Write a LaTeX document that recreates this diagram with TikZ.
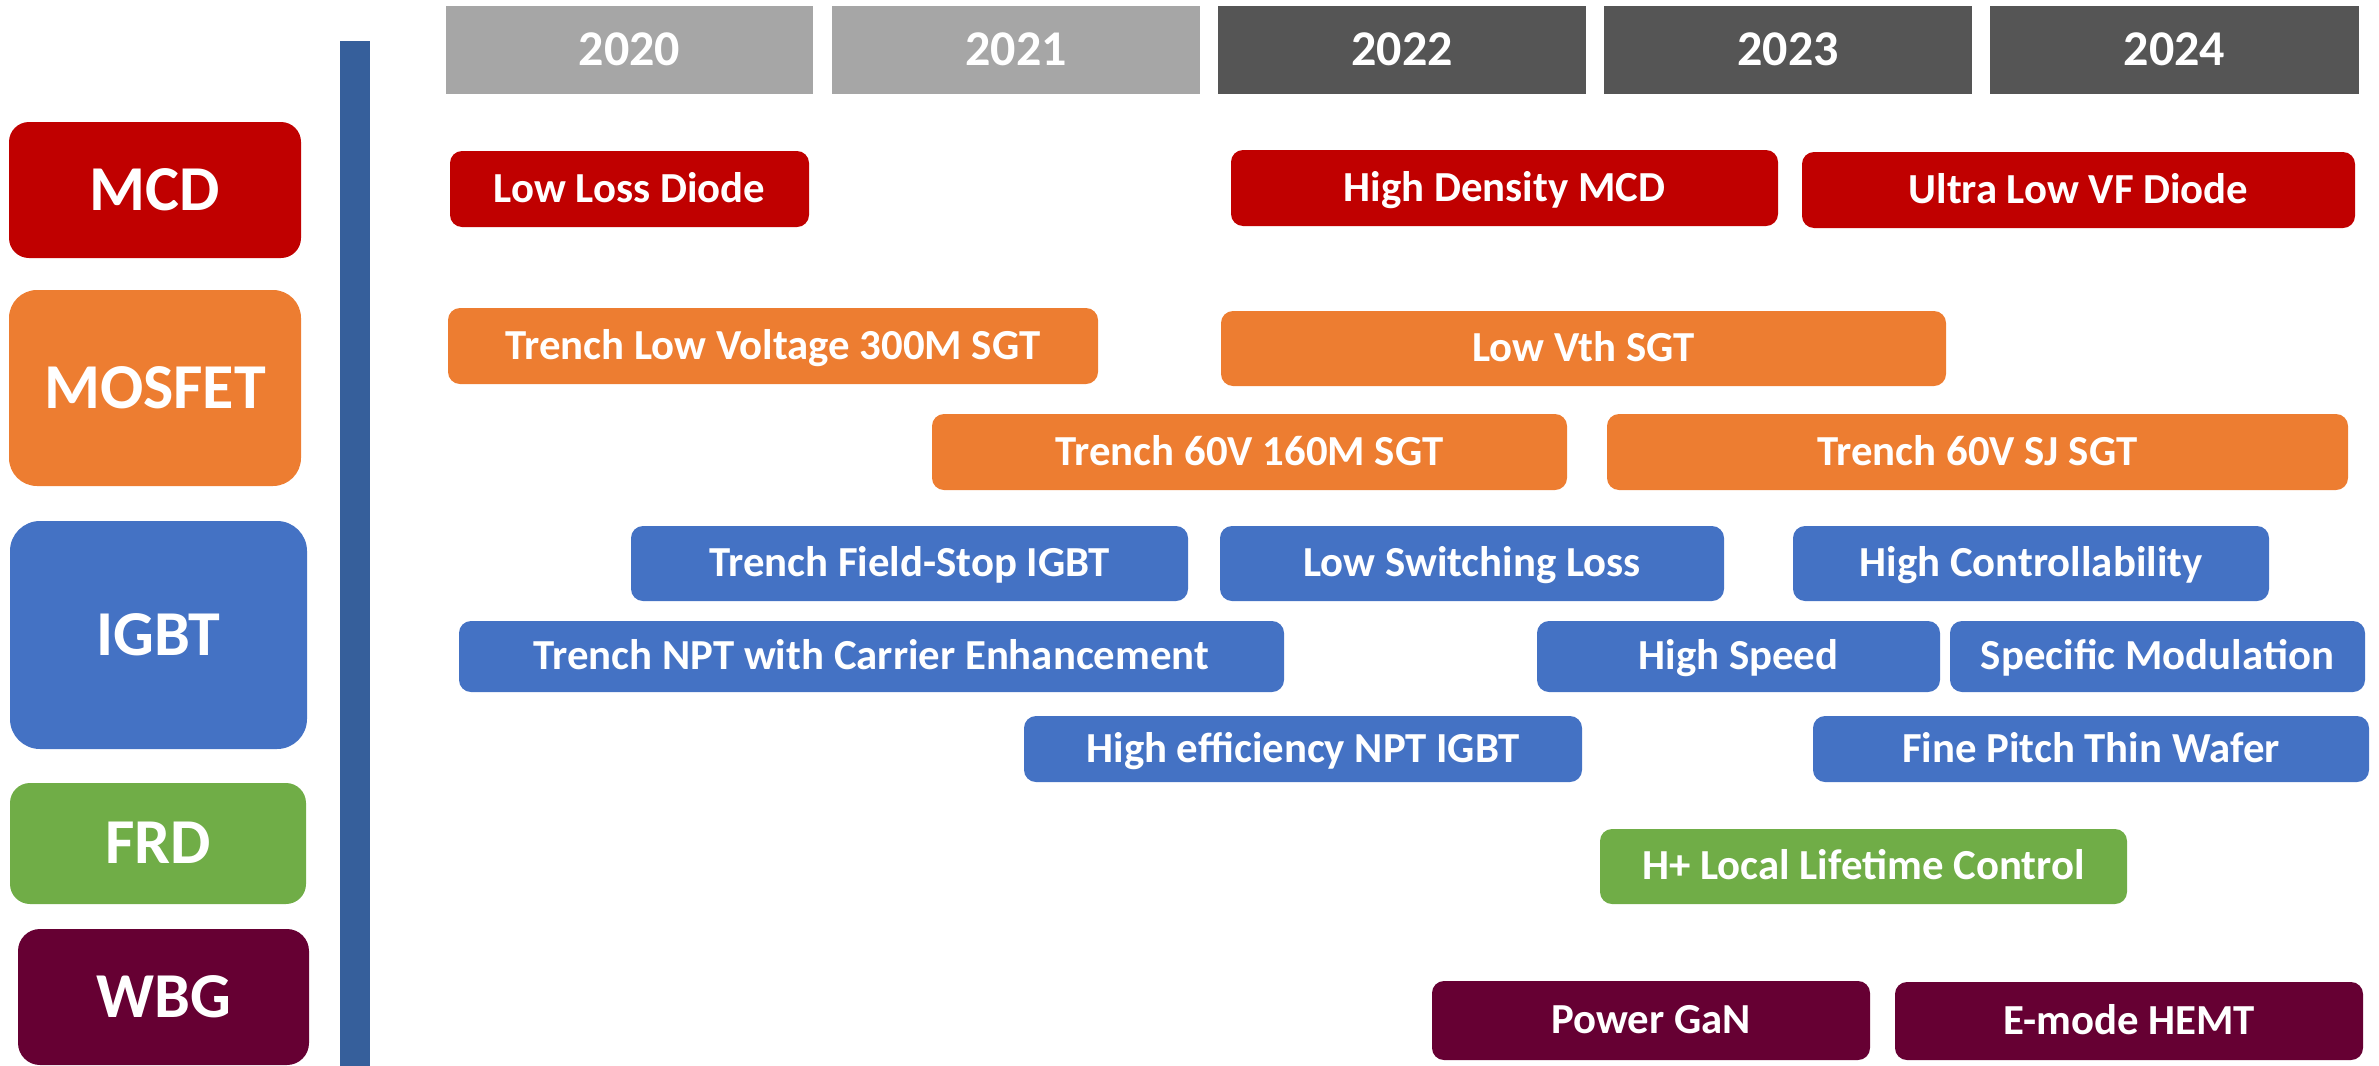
\documentclass[tikz,border=0pt]{standalone}
\usepackage{fontspec}
\setmainfont{Carlito}
\definecolor{cred}{HTML}{C00000}
\definecolor{corange}{HTML}{ED7D31}
\definecolor{cblue}{HTML}{4472C4}
\definecolor{cgreen}{HTML}{70AD47}
\definecolor{cmaroon}{HTML}{660033}
\definecolor{clgray}{HTML}{A6A6A6}
\definecolor{cdgray}{HTML}{555555}
\definecolor{cbar}{HTML}{365F9B}
\newcommand\boxat[7]{\node[#6, minimum width={(#4-#2)*0.5pt}, minimum height={(#5-#3)*0.5pt}] (#1) at ({(#2+#4)/2},{(#3+#5)/2}) {#7};}
\tikzset{
  base/.style={inner sep=0pt, outer sep=0pt, text=white, draw=none, text depth=0pt},
  yearbox/.style={base, text height=15.8pt, font=\bfseries\fontsize{25}{25}\selectfont},
  catbox/.style={base, text height=20.2pt, rounded corners=12pt, font=\bfseries\fontsize{32}{32}\selectfont},
  item/.style={base, text height=13.4pt, rounded corners=6pt, font=\bfseries\fontsize{21.4}{21.4}\selectfont},
}
\begin{document}
\begin{tikzpicture}[x=0.5pt,y=-0.5pt]
\useasboundingbox (0,0) rectangle (2379,1066);
% years
\boxat{y20}{446}{6}{813}{94}{yearbox, fill=clgray}{2020}
\boxat{y21}{832}{6}{1200}{94}{yearbox, fill=clgray}{2021}
\boxat{y22}{1218}{6}{1586}{94}{yearbox, fill=cdgray}{2022}
\boxat{y23}{1604}{6}{1972}{94}{yearbox, fill=cdgray}{2023}
\boxat{y24}{1990}{6}{2359}{94}{yearbox, fill=cdgray}{2024}
% vertical bar
\boxat{bar}{340}{41}{370}{1066}{base, fill=cbar}{}
% categories
\boxat{mcd}{9}{122}{301}{258}{catbox, fill=cred, rounded corners=10pt}{MCD}
\boxat{mos}{9}{290}{301}{486}{catbox, fill=corange, rounded corners=14pt}{MOSFET}
\boxat{igbt}{10}{521}{307}{749}{catbox, fill=cblue, rounded corners=15pt}{IGBT}
\boxat{frd}{10}{783}{306}{904}{catbox, fill=cgreen, rounded corners=10pt}{FRD}
\boxat{wbg}{18}{929}{309}{1065}{catbox, fill=cmaroon, rounded corners=11pt}{WBG}
% MCD items
\boxat{lld}{450}{151}{809}{227}{item, fill=cred}{Low Loss Diode}
\boxat{hdm}{1231}{150}{1778}{226}{item, fill=cred}{High Density MCD}
\boxat{ulvf}{1802}{152}{2355}{228}{item, fill=cred}{Ultra Low VF Diode}
% MOSFET items
\boxat{tlv}{448}{308}{1098}{384}{item, fill=corange}{Trench Low Voltage 300M SGT}
\boxat{lvth}{1221}{311}{1946}{386}{item, fill=corange}{Low Vth SGT}
\boxat{t60}{932}{414}{1567}{490}{item, fill=corange}{Trench 60V 160M SGT}
\boxat{tsj}{1607}{414}{2348}{490}{item, fill=corange}{Trench 60V SJ SGT}
% IGBT items
\boxat{tfs}{631}{526}{1188}{601}{item, fill=cblue}{Trench Field-Stop IGBT}
\boxat{lsl}{1220}{526}{1724}{601}{item, fill=cblue}{Low Switching Loss}
\boxat{hc}{1793}{526}{2269}{601}{item, fill=cblue}{High Controllability}
\boxat{tnpt}{459}{621}{1284}{692}{item, fill=cblue}{Trench NPT with Carrier Enhancement}
\boxat{hs}{1537}{621}{1940}{692}{item, fill=cblue}{High Speed}
\boxat{sm}{1950}{621}{2365}{692}{item, fill=cblue}{Specific Modulation}
\boxat{he}{1024}{716}{1582}{782}{item, fill=cblue}{High efficiency NPT IGBT}
\boxat{fp}{1813}{716}{2369}{782}{item, fill=cblue}{Fine Pitch Thin Wafer}
% FRD
\boxat{hp}{1600}{829}{2127}{904}{item, fill=cgreen}{H+ Local Lifetime Control}
% WBG
\boxat{pg}{1432}{981}{1870}{1060}{item, fill=cmaroon}{Power GaN}
\boxat{em}{1895}{982}{2363}{1060}{item, fill=cmaroon}{E-mode HEMT}
\end{tikzpicture}
\end{document}
